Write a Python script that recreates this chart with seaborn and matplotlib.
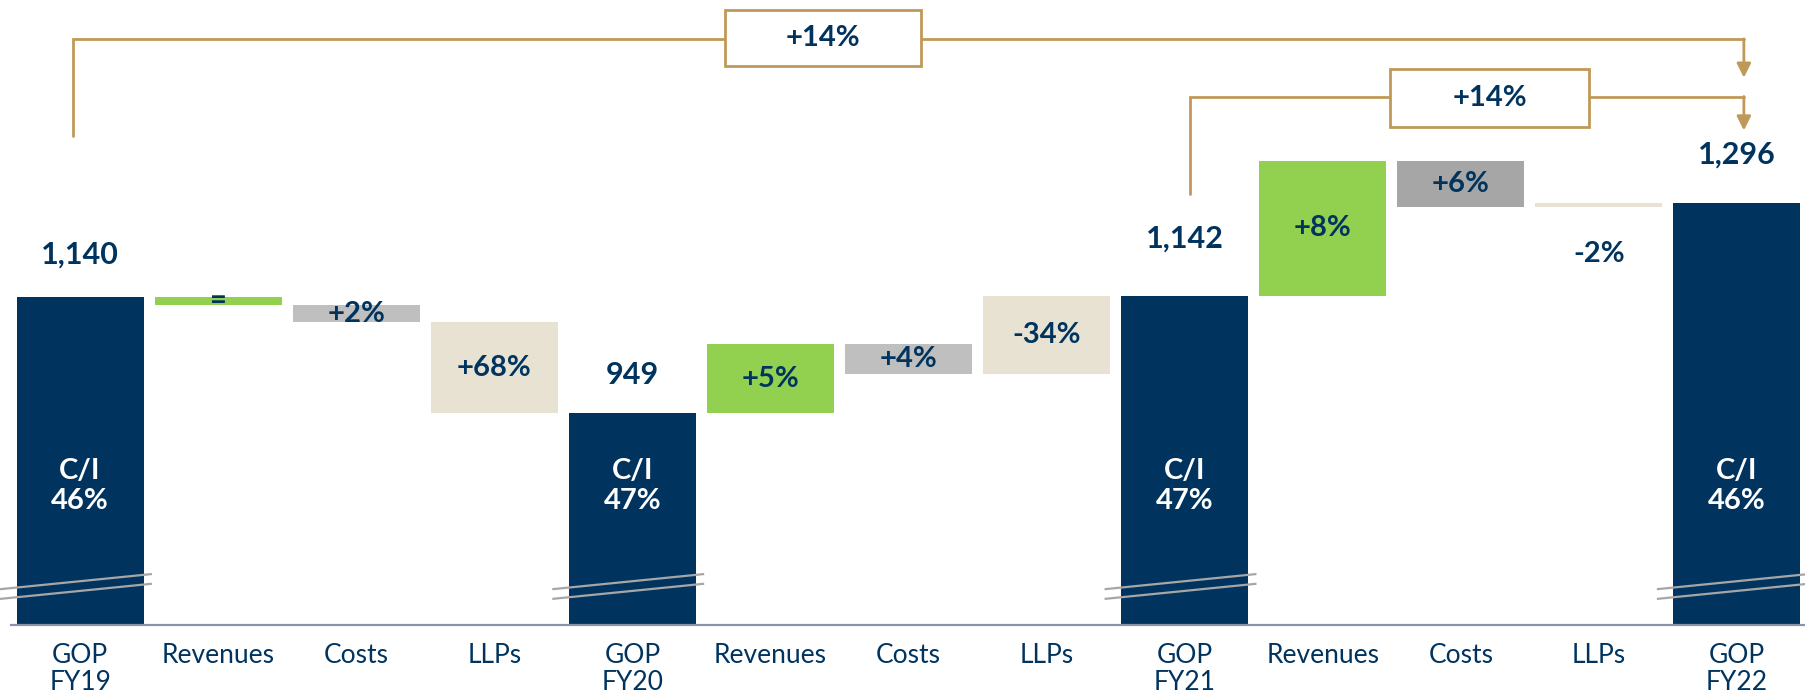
import numpy as np
import pandas as pd
import matplotlib
matplotlib.use("Agg")
import matplotlib.pyplot as plt
from matplotlib.patches import Rectangle
import seaborn as sns

# GOP bridge FY19 -> FY22
gop_years = ["FY19", "FY20", "FY21", "FY22"]
gop_values = [1140, 949, 1142, 1296]
ci_ratios = ["46%", "47%", "47%", "46%"]
step_names = ["Revenues", "Costs", "LLPs"]
# impact of each driver on GOP, one row per year
step_impacts = [[-13, -28, -150], [114, -49, 128], [223, -76, 7]]
step_labels = [["=", "+2%", "+68%"], ["+5%", "+4%", "-34%"], ["+8%", "+6%", "-2%"]]
growth_labels = ["+14%", "+14%"]  # FY19->FY22, FY21->FY22

NAVY = "#00345F"
GREEN = "#92D050"
GREY_L = "#BFBFBF"
GREY_D = "#A6A6A6"
BEIGE = "#E7E2D1"
GOLD = "#C09958"
AXIS = "#8C93A8"

# build waterfall table
rows = []
for i, year in enumerate(gop_years):
    rows.append(dict(label=f"GOP\n{year}", kind="GOP", bottom=0, top=gop_values[i],
                     text=f"{gop_values[i]:,}", color=NAVY))
    if i < len(gop_years) - 1:
        level = gop_values[i]
        for name, imp, lab in zip(step_names, step_impacts[i], step_labels[i]):
            new = level + imp
            col = {"Revenues": GREEN, "Costs": GREY_L if i < 2 else GREY_D, "LLPs": BEIGE}[name]
            rows.append(dict(label=name, kind=name, bottom=min(level, new), top=max(level, new),
                             text=lab, color=col))
            level = new
df = pd.DataFrame(rows)
df["pos"] = [f"s{i}" for i in range(len(df))]
order = list(df["pos"])
palette = dict(zip(df["pos"], df["color"]))

sns.set_theme(style="white")
plt.rcParams["font.family"] = ["Lato", "DejaVu Sans"]

fig = plt.figure(figsize=(18.06, 6.97), dpi=100)
ax = fig.add_axes([0, 0.1033, 1, 0.8967])

bar_w = 0.92
sns.barplot(data=df, x="pos", y="top", hue="pos", palette=palette, order=order, hue_order=order,
            dodge=False, width=bar_w, saturation=1, linewidth=0, legend=False, ax=ax)
# blank out below the floating bars
sns.barplot(data=df, x="pos", y="bottom", order=order, color="white", width=bar_w + 0.02,
            saturation=1, linewidth=0, ax=ax)

ax.set_xlim(-0.58, 12.33)
ax.set_ylim(600, 1630)
ax.set_ylabel("")
ax.set_xlabel("")
ax.set_yticks([])
for s in ["left", "top", "right"]:
    ax.spines[s].set_visible(False)
ax.spines["bottom"].set_color(AXIS)
ax.spines["bottom"].set_linewidth(1.6)
ax.spines["bottom"].set_bounds(-0.5, len(df) - 0.5)

ax.set_xticks(np.arange(-0.5, len(df), 1.0))
ax.set_xticklabels([])
ax.set_xticks(np.arange(len(df)), minor=True)
ax.set_xticklabels(df["label"], minor=True)
ax.tick_params(axis="x", which="major", length=6, width=1.5, color=AXIS, direction="out")
ax.tick_params(axis="x", which="minor", length=0, pad=13, labelsize=19, labelcolor=NAVY)
for t in ax.get_xticklabels(minor=True):
    t.set_linespacing(1.12)

# label offsets above GOP bars
gop_label_offset = [70, 63, 95, 79]
gop_idx = 0
for i, r in df.iterrows():
    if r["kind"] == "GOP":
        ax.text(i, r["top"] + gop_label_offset[gop_idx], r["text"], ha="center", va="center",
                fontsize=22, fontweight="bold", color=NAVY)
        ax.text(i, 829, f"C/I\n{ci_ratios[gop_idx]}", ha="center", va="center", fontsize=21,
                fontweight="bold", color="white", linespacing=1.15)
        # axis break marks
        for dy in (0, 16):
            ax.plot([i - 0.58, i + 0.52], [643 + dy, 668 + dy], color=GREY_D, lw=1.6,
                    solid_capstyle="butt", zorder=5)
        gop_idx += 1
    else:
        h = r["top"] - r["bottom"]
        if h < 10 and r["text"] != "=":
            y = r["bottom"] - 78
        else:
            y = (r["top"] + r["bottom"]) / 2
        ax.text(i, y, r["text"], ha="center", va="center", fontsize=21,
                fontweight="bold", color=NAVY, zorder=6)

# growth brackets
def bracket(x0, y_start, y_line, x1, y_tip, box_x, box_y, text):
    ax.plot([x0, x0, x1], [y_start, y_line, y_line], color=GOLD, lw=2, zorder=3,
            solid_joinstyle="miter")
    ax.annotate("", xy=(x1, y_tip), xytext=(x1, y_line + 1),
                arrowprops=dict(arrowstyle="-|>,head_length=0.7,head_width=0.35",
                                color=GOLD, lw=2, shrinkA=0, shrinkB=0), zorder=3)
    ax.add_patch(Rectangle((box_x[0], box_y[0]), box_x[1] - box_x[0], box_y[1] - box_y[0],
                           facecolor="white", edgecolor=GOLD, lw=2, zorder=4))
    ax.text(sum(box_x) / 2, sum(box_y) / 2, text, ha="center", va="center", fontsize=21,
            fontweight="bold", color=NAVY, zorder=5)

bracket(-0.05, 1406, 1565, 12.05, 1502, (4.67, 6.09), (1521, 1614), growth_labels[0])
bracket(8.04, 1311, 1470, 12.05, 1415, (9.49, 10.93), (1421, 1516), growth_labels[1])

fig.savefig("out.png", dpi=100)
